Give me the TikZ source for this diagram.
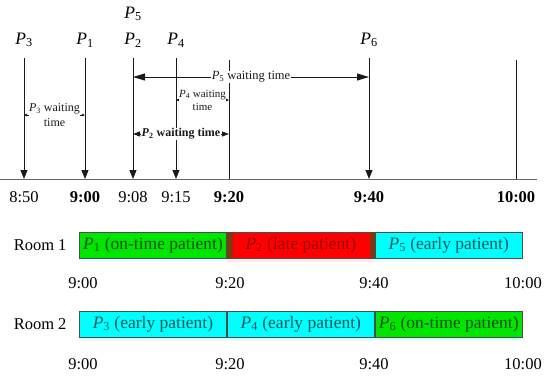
\documentclass[tikz,border=0pt]{standalone}
\usepackage{fontspec}
\setmainfont{Liberation Serif}
\usetikzlibrary{arrows.meta}
\definecolor{ontime}{HTML}{00E600}
\definecolor{late}{HTML}{FF0000}
\definecolor{early}{HTML}{00FFFF}
\definecolor{rim}{HTML}{7A3A12}
\definecolor{ink}{HTML}{1A1A1A}
\newcommand{\pat}[1]{\textit{P}\textsubscript{#1}}

\begin{document}
\begin{tikzpicture}[x=1pt, y=-1pt, >={Triangle[length=9pt,width=7pt]},
    font=\fontsize{16.5}{19}\selectfont,
    slot/.style={draw=black!70, line width=0.9pt, minimum width=147pt, minimum height=26pt, inner sep=0pt, anchor=west, font=\fontsize{17.5}{20}\selectfont},
    wait/.style={fill=white, inner sep=1pt, font=\fontsize{12.5}{14}\selectfont},
    small/.style={fill=white, inner sep=0.5pt, align=center}]
    \useasboundingbox (0,0) rectangle (550,376);
    % time axis
    \coordinate (a0) at (0,179); \coordinate (a1) at (537,179);
    \draw[black!60, line width=0.9pt] (a0) -- (a1);
    \foreach \x/\p/\t in {24/3/8:50, 85/1/\textbf{9:00}, 133/2/9:08, 176/4/9:15, 369/6/\textbf{9:40}} {
      \node[font=\fontsize{17.5}{20}\selectfont] (l\p) at (\x,40) {\pat{\p}};
      \coordinate (t\p) at (\x,58); \coordinate (b\p) at (\x,179);
      \draw[->, ink, line width=1pt] (t\p) -- (b\p);
      \node (d\p) at (\x,197) {\t};
    }
    \node[font=\fontsize{17.5}{20}\selectfont] (l5) at (133,14) {\pat{5}};
    \coordinate (t20) at (229,60); \coordinate (b20) at (229,179);
    \coordinate (t60) at (516,60); \coordinate (b60) at (516,179);
    \draw[ink, line width=1pt] (t20) -- (b20) (t60) -- (b60);
    \node (d20) at (229,197) {\textbf{9:20}};
    \node (d60) at (516,197) {\textbf{10:00}};
    % waiting times
    \coordinate (w5a) at (133,77); \coordinate (w5b) at (369,77);
    \draw[{Triangle[length=12pt,width=7pt]}-{Triangle[length=12pt,width=7pt]}, ink, line width=0.9pt] (w5a) -- (w5b)
      node[wait, midway] (w5) {\pat{5} waiting time};
    \coordinate (w4a) at (176,100); \coordinate (w4b) at (229,100);
    \draw[{Triangle[length=3pt,width=2.5pt]}-{Triangle[length=3pt,width=2.5pt]}, ink, line width=0.6pt] (w4a) -- (w4b)
      node[small, midway, font=\fontsize{11}{13}\selectfont] (w4) {\pat{4} waiting\\time};
    \coordinate (w3a) at (24,115); \coordinate (w3b) at (85,115);
    \draw[{Triangle[length=3pt,width=2.5pt]}-{Triangle[length=3pt,width=2.5pt]}, ink, line width=0.6pt] (w3a) -- (w3b)
      node[small, midway, font=\fontsize{12}{15}\selectfont] (w3) {\pat{3} waiting\\time};
    \coordinate (w2a) at (133,134); \coordinate (w2b) at (229,134);
    \draw[{Triangle[length=7pt,width=5pt]}-{Triangle[length=7pt,width=5pt]}, ink, line width=0.9pt] (w2a) -- (w2b)
      node[wait, midway, font=\fontsize{12}{14}\selectfont\bfseries] (w2) {\pat{2} waiting time};
    % rooms
    \fill[early!12] (79,258) rectangle (520,262);
    \fill[late!10] (226,258) rectangle (373,262);
    \fill[early!12] (79,337) rectangle (520,341);
    \node[anchor=east] (room1) at (70,245) {Room 1};
    \node[slot, fill=ontime, text=ontime!35!black] (s1) at (79,245) {\pat{1} (on-time patient)};
    \node[slot, fill=late, text=late!60!black] (s2) at (s1.east) {\pat{2} (late patient)};
    \node[slot, fill=early, text=early!35!black] (s5) at (s2.east) {\pat{5} (early patient)};
    \fill[rim] (s2.north west) rectangle ++(6,26);
    \fill[rim] (s2.north east) rectangle ++(-5,26);
    \node[anchor=east] (room2) at (70,324) {Room 2};
    \node[slot, fill=early, text=early!35!black] (s3) at (79,324) {\pat{3} (early patient)};
    \node[slot, fill=early, text=early!35!black] (s4) at (s3.east) {\pat{4} (early patient)};
    \node[slot, fill=ontime, text=ontime!35!black] (s6) at (s4.east) {\pat{6} (on-time patient)};
    \foreach \x/\t [count=\i] in {83/9:00, 230/9:20, 374/9:40, 523/10:00} {
      \node (r1t\i) at (\x,283) {\t};
      \node (r2t\i) at (\x,364) {\t};
    }
\end{tikzpicture}
\end{document}
